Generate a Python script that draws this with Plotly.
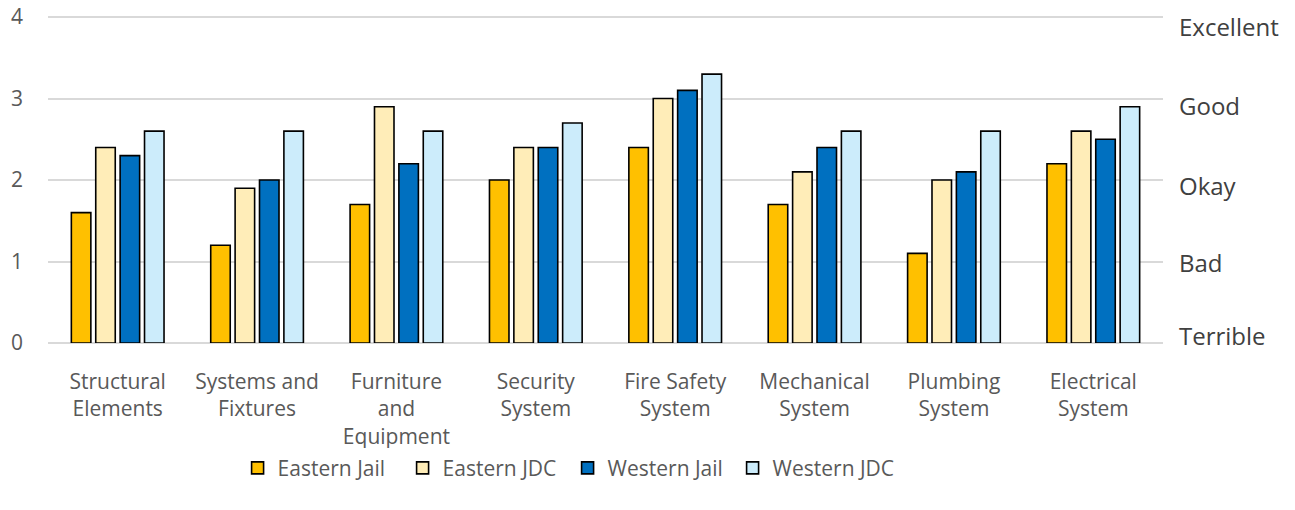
import plotly.graph_objects as go

categories = ["Structural<br>Elements", "Systems and<br>Fixtures", "Furniture<br>and<br>Equipment",
              "Security<br>System", "Fire Safety<br>System", "Mechanical<br>System",
              "Plumbing<br>System", "Electrical<br>System"]
series_names = ["Eastern Jail", "Eastern JDC", "Western Jail", "Western JDC"]
eastern_jail = [1.6, 1.2, 1.7, 2.0, 2.4, 1.7, 1.1, 2.2]
eastern_jdc = [2.4, 1.9, 2.9, 2.4, 3.0, 2.1, 2.0, 2.6]
western_jail = [2.3, 2.0, 2.2, 2.4, 3.1, 2.4, 2.1, 2.5]
western_jdc = [2.6, 2.6, 2.6, 2.7, 3.3, 2.6, 2.6, 2.9]
rating_labels = ["Terrible", "Bad", "Okay", "Good", "Excellent"]
rating_positions = [0.09, 0.99, 1.93, 2.91, 3.88]

colors = ["#FFC000", "#FFEDB8", "#0070C0", "#CCECFB"]
FONT = "Open Sans, Noto Sans, sans-serif"

fig = go.Figure()
for name, vals, c in zip(series_names, [eastern_jail, eastern_jdc, western_jail, western_jdc], colors):
    fig.add_trace(go.Bar(x=categories, y=vals, name=name,
                         marker=dict(color=c, line=dict(color="#000000", width=1.6))))

for lab, pos in zip(rating_labels, rating_positions):
    fig.add_annotation(x=1.0125, xref="paper", y=pos, yref="y", text=lab, showarrow=False,
                       xanchor="left", yanchor="middle",
                       font=dict(family=FONT, size=24, color="#404040"))

fig.update_layout(
    width=1295, height=510,
    margin=dict(l=48, r=132, t=13, b=167, autoexpand=False),
    paper_bgcolor="white", plot_bgcolor="white",
    barmode="group", bargap=0.3, bargroupgap=0.2,
    font=dict(family=FONT, color="#595959", size=21),
    showlegend=True,
    legend=dict(orientation="h", x=0.466, xanchor="center", yref="container", y=0.082,
                yanchor="middle",
                font=dict(size=21, color="#595959"), entrywidth=120, itemwidth=30,
                traceorder="normal"),
    xaxis=dict(tickfont=dict(size=21, color="#595959"), showline=False, ticks="",
               automargin=False, ticklabelstandoff=24),
    yaxis=dict(range=[0, 4.05], tickvals=[0, 1, 2, 3, 4], showgrid=True, gridcolor="#D9D9D9",
               gridwidth=1.5, zeroline=True, zerolinecolor="#D9D9D9", zerolinewidth=1.5,
               tickfont=dict(size=21, color="#595959"), ticklabelstandoff=24,
               automargin=False, fixedrange=True),
)

fig.write_html("out.html")
